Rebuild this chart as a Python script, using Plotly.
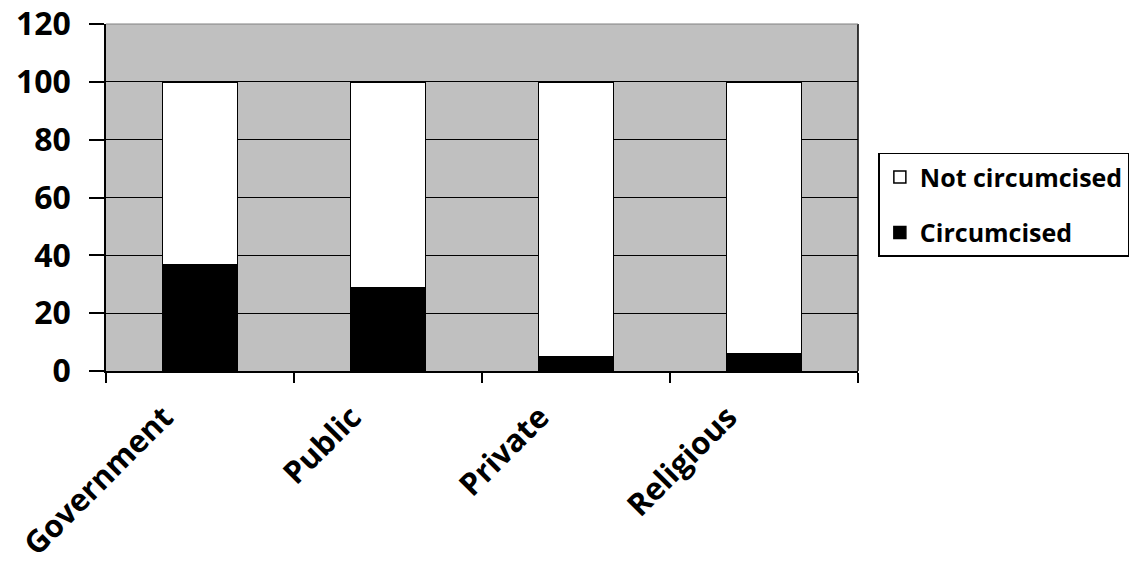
import plotly.graph_objects as go

categories = ["Government", "Public", "Private", "Religious"]
circumcised = [36.8, 28.9, 5.0, 6.1]
not_circumcised = [round(100 - v, 1) for v in circumcised]
y_ticks = [0, 20, 40, 60, 80, 100, 120]

FONT = "Open Sans"

fig = go.Figure()
fig.add_trace(go.Bar(
    x=categories, y=circumcised, name="Circumcised",
    legendgroup="c", legendrank=2,
    marker=dict(color="black", line=dict(color="black", width=1.5)),
))
fig.add_trace(go.Bar(
    x=categories, y=not_circumcised, name="Not circumcised",
    legendgroup="n", legendrank=1,
    marker=dict(color="white", line=dict(color="black", width=1.5)),
))

fig.update_layout(
    width=1129, height=562,
    barmode="stack", bargap=0.6,
    paper_bgcolor="white", plot_bgcolor="#C0C0C0",
    margin=dict(l=106, r=271, t=24, b=191, autoexpand=False),
    font=dict(family=FONT, color="black"),
    legend=dict(
        xref="container", yref="container",
        x=0.778, y=0.728, xanchor="left", yanchor="top",
        traceorder="grouped",
        bgcolor="white", bordercolor="black", borderwidth=1.5,
        font=dict(family=FONT, size=25, weight="bold"),
        tracegroupgap=20,
    ),
    showlegend=True,
)

fig.update_yaxes(
    range=[0, 120], tickvals=y_ticks, automargin=False,
    showgrid=True, gridcolor="black", gridwidth=1,
    ticks="outside", ticklen=15, tickcolor="black", tickwidth=1.5,
    ticklabelstandoff=12,
    showline=True, linecolor="black", linewidth=1.5,
    tickfont=dict(family=FONT, size=32, weight="bold"),
    zeroline=False,
)
fig.update_xaxes(
    tickangle=-45, tickson="boundaries", automargin=False,
    ticks="outside", ticklen=10, tickcolor="black", tickwidth=1.5,
    ticklabelstandoff=14, ticklabelshift=-36,
    showline=True, linecolor="black", linewidth=1.5,
    tickfont=dict(family=FONT, size=31, weight="bold"),
    showgrid=False,
)

# right and top edges of the plotting area
fig.add_shape(type="line", xref="paper", yref="paper", x0=1, x1=1, y0=0, y1=1,
              line=dict(color="black", width=1.5))
fig.add_shape(type="line", xref="paper", yref="paper", x0=0, x1=1, y0=1, y1=1,
              line=dict(color="#808080", width=1))

fig.write_html("out.html")
